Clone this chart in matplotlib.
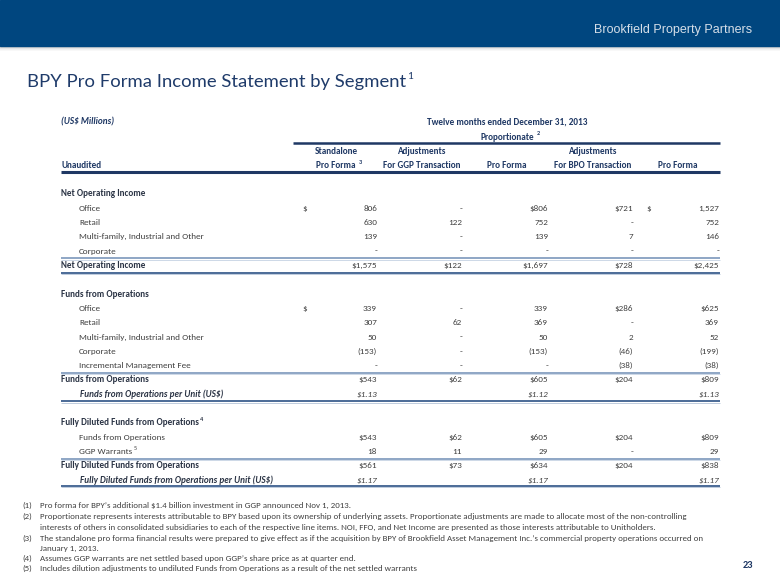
import matplotlib
matplotlib.use("Agg")
import matplotlib.pyplot as plt
from matplotlib.patches import Rectangle
from matplotlib import font_manager as fm

# ---- data ---------------------------------------------------------------
col_top = ["Standalone", "Adjustments", "", "Adjustments", ""]
col_bottom = ["Pro Forma", "For GGP Transaction", "Pro Forma", "For BPO Transaction", "Pro Forma"]

noi_labels = ["Office", "Retail", "Multi-family, Industrial and Other", "Corporate"]
noi_values = [
    [806, None, 806, 721, 1527],
    [630, 122, 752, None, 752],
    [139, None, 139, 7, 146],
    [None, None, None, None, None],
]
noi_total = [1575, 122, 1697, 728, 2425]

ffo_labels = ["Office", "Retail", "Multi-family, Industrial and Other", "Corporate",
              "Incremental Management Fee"]
ffo_values = [
    [339, None, 339, 286, 625],
    [307, 62, 369, None, 369],
    [50, None, 50, 2, 52],
    [-153, None, -153, -46, -199],
    [None, None, None, -38, -38],
]
ffo_total = [543, 62, 605, 204, 809]
ffo_per_unit = [1.13, None, 1.12, None, 1.13]

fd_labels = ["Funds from Operations", "GGP Warrants"]
fd_values = [
    [543, 62, 605, 204, 809],
    [18, 11, 29, None, 29],
]
fd_total = [561, 73, 634, 204, 838]
fd_per_unit = [1.17, None, 1.17, None, 1.17]

footnotes = [
    ("(1)", "Pro forma for BPY\u2019s additional $1.4 billion investment in GGP announced Nov 1, 2013."),
    ("(2)", "Proportionate represents interests attributable to BPY based upon its ownership of underlying assets. "
            "Proportionate adjustments are made to allocate most of the non-controlling"),
    ("", "interests of others in consolidated subsidiaries to each of the respective line items. NOI, FFO, and Net "
         "Income are presented as those interests attributable to Unitholders."),
    ("(3)", "The standalone pro forma financial results were prepared to give effect as if the acquisition by BPY of "
            "Brookfield Asset Management Inc.\u2019s commercial property operations occurred on"),
    ("", "January 1, 2013."),
    ("(4)", "Assumes GGP warrants are net settled based upon GGP\u2019s share price as at quarter end."),
    ("(5)", "Includes dilution adjustments to undiluted Funds from Operations as a result of the net settled warrants"),
]

# ---- fonts --------------------------------------------------------------
avail = {f.name for f in fm.fontManager.ttflist}


def pick(*names):
    for n in names:
        if n in avail:
            return n
    return "DejaVu Sans"


body = [pick("Carlito", "Liberation Sans Narrow", "Lato"), "DejaVu Sans"]
title_font = [pick("Lato", "Open Sans"), "DejaVu Sans"]
brand_font = [pick("Liberation Sans", "Roboto"), "DejaVu Sans"]

NAVY = "#1F3864"
TXT = "#404040"
LAB = "#2B3445"

fig = plt.figure(figsize=(7.8, 5.85), dpi=100)
ax = fig.add_axes([0, 0, 1, 1])
ax.set_xlim(0, 780)
ax.set_ylim(585, 0)
ax.axis("off")

# header bar with shadow
ax.add_patch(Rectangle((0, 0), 780, 46, color="#00467F", zorder=2))
for i, a in enumerate([0.35, 0.25, 0.15, 0.08, 0.04]):
    ax.add_patch(Rectangle((0, 46 + i), 780, 1, color="#555555", alpha=a, lw=0))
ax.text(752, 30, "Brookfield Property Partners", ha="right", va="center",
        color="#D5DEE8", fontsize=9, family=brand_font, zorder=3)

t = ax.text(27, 82, "BPY Pro Forma Income Statement by Segment", ha="left", va="center",
            color="#1F3B6A", fontsize=13.3, family=title_font)


def sup(artist, s, size, dx=1):
    ax.annotate(s, xy=(1, 0.85), xycoords=artist, xytext=(dx, 0), textcoords="offset points",
                ha="left", va="center", fontsize=size, color=artist.get_color(),
                family=body, fontweight=artist.get_fontweight())


sup(t, "1", 8, dx=0.5)

FS = 6.6
right = [377, 462, 548, 633, 719]
centers = [336, 422, 507, 593, 678]
dollar_x = {0: 302, 4: 646}


def txt(x, y, s, **kw):
    kw.setdefault("fontsize", FS)
    kw.setdefault("color", TXT)
    kw.setdefault("va", "center")
    return ax.text(x, y, s, family=body, **kw)


# column header block
txt(61, 122, "(US$ Millions)", fontweight="bold", style="italic", color=NAVY)
txt(507, 122, "Twelve months ended December 31, 2013", fontweight="bold", color=NAVY, ha="center")
p = txt(507, 137, "Proportionate", fontweight="bold", color=NAVY, ha="center")
sup(p, "2", 4.5, dx=2)
ax.plot([293, 720], [143, 143], color=NAVY, lw=1.8, solid_capstyle="butt")
for i in range(5):
    txt(centers[i], 152, col_top[i], fontweight="bold", color=NAVY, ha="center")
    h = txt(centers[i], 166, col_bottom[i], fontweight="bold", color=NAVY, ha="center")
    if i == 0:
        sup(h, "3", 4.5, dx=2)
txt(61, 166, "Unaudited", fontweight="bold", color=NAVY)
ax.plot([61, 720], [172, 172], color=NAVY, lw=2.2, solid_capstyle="butt")

# row grid
Y0, DY = 194, 14.3


def ry(i):
    return Y0 + i * DY


def fmt(v, dollar=False, dec=False):
    if v is None:
        return "-"
    s = f"{abs(v):,.2f}" if dec else f"{abs(v):,}"
    if dollar:
        s = "$" + s
    if v < 0:
        s = "(" + s + ")"
    return s


def hline(i, kind):
    y = ry(i)
    if kind == "sep":
        ax.plot([61, 720], [y, y], color="#7C97BB", lw=1.2, solid_capstyle="butt")
        ax.plot([61, 720], [y + 1.3, y + 1.3], color="#C5D2E3", lw=0.6, solid_capstyle="butt")
    else:
        ax.plot([61, 720], [y, y], color="#3D5F8F", lw=1.3, solid_capstyle="butt")
        ax.plot([61, 720], [y + 1.4, y + 1.4], color="#BFCCDD", lw=0.7, solid_capstyle="butt")


def value_row(i, vals, dollar_mode, italic=False, dec=False):
    # dollar_mode per column: 0 none, 1 inline $, 2 separate $ sign
    for c, v in enumerate(vals):
        if dec and v is None:
            continue
        mode = dollar_mode[c]
        if mode == 2:
            txt(dollar_x[c], ry(i), "$")
        txt(right[c], ry(i), fmt(v, mode == 1, dec), ha="right",
            style="italic" if italic else "normal")


# Net Operating Income
txt(61, ry(0), "Net Operating Income", fontweight="bold", color=LAB)
noi_dollar = [[2, 0, 1, 1, 2]] + [[0] * 5] * 3
for k, lab in enumerate(noi_labels):
    txt(79, ry(1 + k), lab)
    value_row(1 + k, noi_values[k], noi_dollar[k])
hline(4.5, "sep")
txt(61, ry(5), "Net Operating Income", fontweight="bold", color=LAB)
value_row(5, noi_total, [1] * 5)
hline(5.5, "end")

# Funds from Operations
txt(61, ry(7), "Funds from Operations", fontweight="bold", color=LAB)
ffo_dollar = [[2, 0, 0, 1, 1]] + [[0] * 5] * 4
for k, lab in enumerate(ffo_labels):
    txt(79, ry(8 + k), lab)
    value_row(8 + k, ffo_values[k], ffo_dollar[k])
hline(12.5, "sep")
txt(61, ry(13), "Funds from Operations", fontweight="bold", color=LAB)
value_row(13, ffo_total, [1] * 5)
txt(80, ry(14), "Funds from Operations per Unit (US$)", style="italic", fontweight="bold", color=LAB)
value_row(14, ffo_per_unit, [1] * 5, italic=True, dec=True)
hline(14.5, "end")

# Fully Diluted FFO
h = txt(61, ry(16), "Fully Diluted Funds from Operations", fontweight="bold", color=LAB)
sup(h, "4", 4.5)
for k, lab in enumerate(fd_labels):
    l = txt(79, ry(17 + k), lab)
    if k == 1:
        sup(l, "5", 4.5)
    value_row(17 + k, fd_values[k], [[1] * 5, [0] * 5][k])
hline(18.5, "sep")
txt(61, ry(19), "Fully Diluted Funds from Operations", fontweight="bold", color=LAB)
value_row(19, fd_total, [1] * 5)
txt(80, ry(20), "Fully Diluted Funds from Operations per Unit (US$)", style="italic",
    fontweight="bold", color=LAB)
value_row(20, fd_per_unit, [1] * 5, italic=True, dec=True)
hline(20.4, "end")

# footnotes
fy = [505, 516, 527, 538, 548, 558, 568]
for (num, s), y in zip(footnotes, fy):
    if num:
        txt(22, y, num, fontsize=6.4)
    txt(40, y, s, fontsize=6.4)

txt(748, 566, "23", fontweight="bold", color=NAVY, fontsize=7.5, ha="center")

fig.savefig("out.png", dpi=100, facecolor="white")
